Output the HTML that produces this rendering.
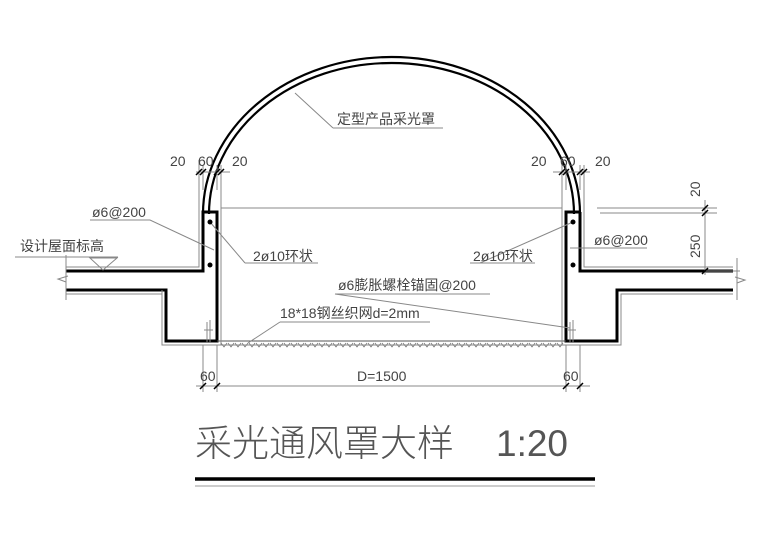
<!DOCTYPE html>
<html><head><meta charset="utf-8"><style>
html,body{margin:0;padding:0;background:#fff;}
svg{display:block;}
text{font-family:"Liberation Sans","Noto Sans CJK SC",sans-serif;fill:#444;}
</style></head><body>
<svg width="760" height="537" viewBox="0 0 760 537" xmlns="http://www.w3.org/2000/svg">
<g fill="none" stroke="#000">
<!-- dome -->
<path d="M203,214 A188.5,157 0 0 1 580,214" stroke-width="2.2"/>
<path d="M209,214 A182.5,151 0 0 1 574,214" stroke-width="2.2"/>
<path d="M66,271 H203 V212 H217 V341 H166 V290 H66" stroke-width="3"/>
<path d="M580,212 H566 V341 H617 V290 H733 M580,212 V271 H733" stroke-width="3"/>
<path d="M217,341 H566" stroke-width="1" stroke="#555"/>
</g>
<g fill="none" stroke="#888" stroke-width="1">
<path d="M66,267 H199 V208 M221,208 V345 M162,290 V345 H221 M66,294 H162"/>
<path d="M584,208 V267 H733 M562,208 V345 H621 V294 H733"/>
<path d="M221,345 H562"/>
<path d="M221,208 H562"/>
<path d="M66,255 V300 M66,282 l-8,-3 l10,-3 M737,258 V300 M737,283 l8,-3 l-10,-3"/>
<path d="M196,172 H230 M199,160 V212 M203,165 V190 M217,165 V190 M221,165 V212"/>
<path d="M553,172 H590 M562,160 V212 M566,165 V190 M580,165 V190 M584,165 V212"/>
<path d="M597,208 H717 M600,213 H717 M705,200 V275 M705,271 H740"/>
<path d="M203,345 V392 M217,345 V392 M566,345 V392 M580,345 V392 M196,386 H590"/>
<path d="M15,257 H118 M90,258 H117 L103,270 Z"/>
<path d="M90,220 H150 L214,250"/>
<path d="M245,263 H318 M245,263 L210,222"/>
<path d="M470,263 H535 M480,263 L573,222"/>
<path d="M570,248 H647"/>
<path d="M335,294 H490 M335,294 L570,328"/>
<path d="M280,322 H430 M280,322 L248,343"/>
<path d="M333,128 H443 M333,128 L295,93"/>
<path d="M207,322 V343 M210,320 V343 M204,330 H213 M570,322 V343 M573,320 V343 M567,330 H576"/>
</g>
<g stroke="#000" stroke-width="1.5">
<path d="M196,175 l6,-6 M200,175 l6,-6 M214,175 l6,-6 M218,175 l6,-6"/>
<path d="M559,175 l6,-6 M563,175 l6,-6 M577,175 l6,-6 M581,175 l6,-6"/>
<path d="M702,211 l6,-6 M702,216 l6,-6 M702,274 l6,-6"/>
<path d="M200,389 l6,-6 M214,389 l6,-6 M563,389 l6,-6 M577,389 l6,-6"/>
</g>
<g fill="#000"><circle cx="210" cy="222" r="2.5"/><circle cx="210" cy="265" r="2.5"/><circle cx="573" cy="222" r="2.5"/><circle cx="573" cy="265" r="2.5"/></g>
<path d="M221,343 l3,4 l3,-4 m1,0 l3,4 l3,-4 m1,0 l3,4 l3,-4 m1,0 l3,4 l3,-4 m1,0 l3,4 l3,-4 m1,0 l3,4 l3,-4 m1,0 l3,4 l3,-4 m1,0 l3,4 l3,-4 m1,0 l3,4 l3,-4 m1,0 l3,4 l3,-4 m1,0 l3,4 l3,-4 m1,0 l3,4 l3,-4 m1,0 l3,4 l3,-4 m1,0 l3,4 l3,-4 m1,0 l3,4 l3,-4 m1,0 l3,4 l3,-4 m1,0 l3,4 l3,-4 m1,0 l3,4 l3,-4 m1,0 l3,4 l3,-4 m1,0 l3,4 l3,-4 m1,0 l3,4 l3,-4 m1,0 l3,4 l3,-4 m1,0 l3,4 l3,-4 m1,0 l3,4 l3,-4 m1,0 l3,4 l3,-4 m1,0 l3,4 l3,-4 m1,0 l3,4 l3,-4 m1,0 l3,4 l3,-4 m1,0 l3,4 l3,-4 m1,0 l3,4 l3,-4 m1,0 l3,4 l3,-4 m1,0 l3,4 l3,-4 m1,0 l3,4 l3,-4 m1,0 l3,4 l3,-4 m1,0 l3,4 l3,-4 m1,0 l3,4 l3,-4 m1,0 l3,4 l3,-4 m1,0 l3,4 l3,-4 m1,0 l3,4 l3,-4 m1,0 l3,4 l3,-4 m1,0 l3,4 l3,-4 m1,0 l3,4 l3,-4 m1,0 l3,4 l3,-4 m1,0 l3,4 l3,-4 m1,0 l3,4 l3,-4 m1,0 l3,4 l3,-4 m1,0 l3,4 l3,-4 m1,0 l3,4 l3,-4 m1,0 l3,4 l3,-4" fill="none" stroke="#777" stroke-width="0.8"/>
<g font-size="14">
<text x="170" y="166">20</text><text x="198" y="166">60</text><text x="232" y="166">20</text>
<text x="531" y="166">20</text><text x="560" y="166">60</text><text x="595" y="166">20</text>
<text x="337" y="124">定型产品采光罩</text>
<text x="92" y="217">ø6@200</text>
<text x="20" y="251">设计屋面标高</text>
<text x="253" y="261">2ø10环状</text>
<text x="473" y="261">2ø10环状</text>
<text x="594" y="245">ø6@200</text>
<text x="338" y="290">ø6膨胀螺栓锚固@200</text>
<text x="280" y="318">18*18钢丝织网d=2mm</text>
<text x="200" y="381">60</text><text x="563" y="381">60</text>
<text x="357" y="381">D=1500</text>
<text transform="translate(700,197) rotate(-90)">20</text>
<text transform="translate(700,258) rotate(-90)">250</text>
</g>
<text x="195" y="456" font-size="37" style="fill:#555;font-weight:300">采光通风罩大样</text>
<text x="496" y="456" font-size="37" style="fill:#555">1:20</text>
<path d="M195,479 H595" stroke="#000" stroke-width="3.5"/>
<path d="M195,486 H595" stroke="#999" stroke-width="1"/>
</svg>
</body></html>
